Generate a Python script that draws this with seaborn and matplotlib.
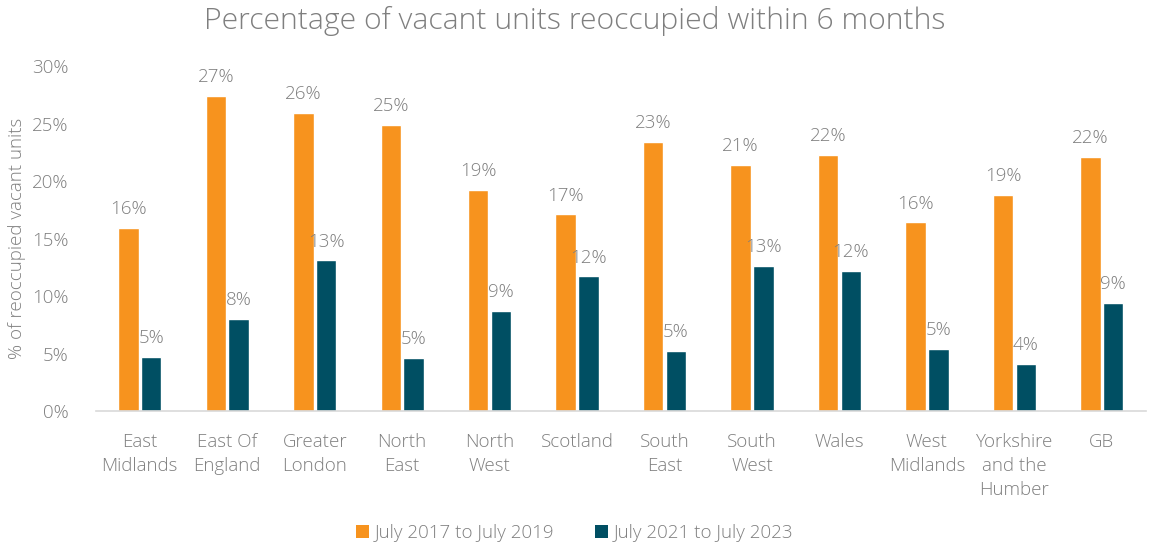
import matplotlib
matplotlib.use("Agg")
import matplotlib.pyplot as plt
import seaborn as sns
import pandas as pd
from matplotlib.patches import Patch

regions = ["East\nMidlands", "East Of\nEngland", "Greater\nLondon", "North\nEast", "North\nWest",
           "Scotland", "South\nEast", "South\nWest", "Wales", "West\nMidlands",
           "Yorkshire\nand the\nHumber", "GB"]
series_names = ["July 2017 to July 2019", "July 2021 to July 2023"]
pre = [15.9, 27.4, 25.9, 24.9, 19.2, 17.1, 23.4, 21.4, 22.3, 16.4, 18.8, 22.1]
post = [4.7, 8.0, 13.1, 4.6, 8.7, 11.7, 5.2, 12.6, 12.2, 5.4, 4.1, 9.4]
yticks = [0, 5, 10, 15, 20, 25, 30]

colors = ["#F7931E", "#004F63"]
grey = "#7f7f7f"
FS = 13.5

sns.set_theme(style="white")
plt.rcParams["font.family"] = ["Open Sans", "DejaVu Sans"]
plt.rcParams["font.weight"] = "light"

df = pd.DataFrame({
    "region": regions * 2,
    "series": [series_names[0]] * len(regions) + [series_names[1]] * len(regions),
    "value": pre + post,
})

fig = plt.figure(figsize=(11.49, 5.5), dpi=100)
ax = fig.add_axes([0.0836, 0.2527, 0.9134, 0.6273])
sns.barplot(data=df, x="region", y="value", hue="series", palette=colors,
            width=0.52, gap=0.1, ax=ax, legend=False, saturation=1)

ax.set_ylim(0, 30)
ax.set_yticks(yticks)
ax.set_yticklabels([f"{t}%" for t in yticks], color=grey, fontsize=FS, fontweight="light")
ax.set_xticks(range(len(regions)))
ax.set_xticklabels(regions, color=grey, fontsize=FS, fontweight="light", linespacing=1.42)
ax.tick_params(axis="x", length=0, pad=16)
ax.tick_params(axis="y", length=0, pad=20)
ax.set_xlabel("")
ax.set_ylabel("% of reoccupied vacant units", color=grey, fontsize=FS, fontweight="light", labelpad=4)
for s in ["top", "right", "left"]:
    ax.spines[s].set_visible(False)
ax.spines["bottom"].set_color("#d9d9d9")
ax.spines["bottom"].set_linewidth(1.2)

for cont in ax.containers:
    for bar in cont:
        h = bar.get_height()
        ax.annotate(f"{h:.0f}%", (bar.get_x() + bar.get_width() / 2, h),
                    xytext=(0, 7), textcoords="offset points", ha="center", va="bottom",
                    color=grey, fontsize=FS, fontweight="light")

fig.suptitle("Percentage of vacant units reoccupied within 6 months", x=0.5, y=0.99,
             color=grey, fontsize=21.7, fontweight="light")

handles = [Patch(facecolor=c, edgecolor="none") for c in colors]
fig.legend(handles, series_names, loc="center", bbox_to_anchor=(0.5, 0.031), ncol=2,
           frameon=False, labelcolor=grey, handlelength=0.7, handleheight=0.7,
           handletextpad=0.3, columnspacing=2.2, prop={"weight": "light", "size": FS})

fig.savefig("out.png", dpi=100)
